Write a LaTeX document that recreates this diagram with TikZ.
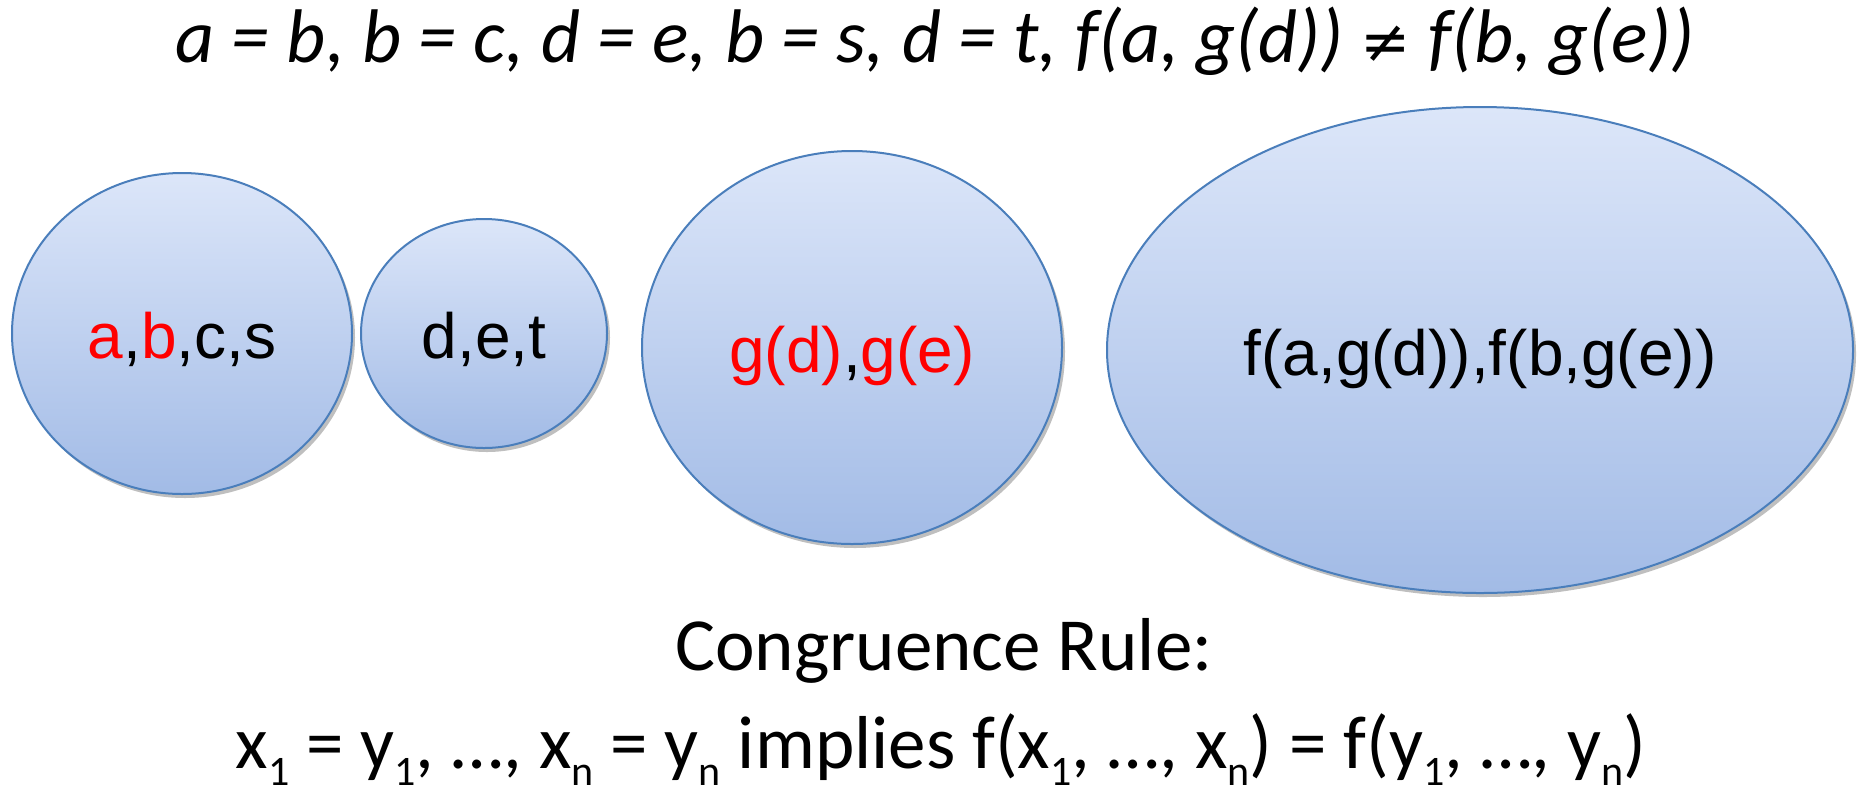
\documentclass[tikz,border=0pt]{standalone}
\usepackage{fontspec}
\setmainfont{Carlito}
\newfontfamily\arialfont{Liberation Sans}
\newfontfamily\symbolfont{DejaVu Sans}
\usetikzlibrary{positioning}
\usetikzlibrary{shapes.geometric}
\usetikzlibrary{shadows}
\definecolor{ectop}{HTML}{DCE6F9}
\definecolor{ecbottom}{HTML}{A2BBE6}
\definecolor{ecline}{HTML}{4A7EBB}
\definecolor{ecred}{HTML}{FF0000}
\newcommand \marked [1] {\textcolor{ecred}{#1}}
\newcommand \lowidx [1] {\raisebox{-8.5pt}{\fontsize{21}{21}\selectfont #1}}
\tikzset{
	eqclass/.style={
		ellipse,
		draw=ecline,
		line width=1pt,
		top color=ectop,
		bottom color=ecbottom,
		drop shadow={shadow xshift=1.5pt, shadow yshift=-2pt, opacity=0.25, fill=black},
		inner sep=0pt,
		text height=25pt,
		text depth=0pt,
		font=\arialfont\fontsize{32}{32}\selectfont
	},
	eqtitle/.style={
		anchor=base,
		inner sep=0pt,
		font=\itshape\fontsize{38}{38}\selectfont
	},
	rulebox/.style={
		anchor=base,
		inner sep=0pt,
		font=\fontsize{37.5}{37.5}\selectfont
	}
}
\begin{document}
\begin{tikzpicture} [x=0.5pt, y=-0.5pt]
	\useasboundingbox (0,0) rectangle (1868,800);
	\node [eqtitle] (eqs) at (935,62) {a = b, b = c, d = e, b = s, d = t, f(a, g(d)) {\symbolfont\fontsize{30}{30}\selectfont ≠} f(b, g(e))};
	\node [eqclass, minimum width=170pt, minimum height=160.5pt] (abcs) at (182,333.5) {\marked{a},\marked{b},c,s};
	\node [eqclass, minimum width=123pt, minimum height=114.5pt] (det) at (484,333.5) {d,e,t};
	\node [eqclass, minimum width=210pt, minimum height=196.5pt] (gdge) at (852,347.5) {\marked{g(d)},\marked{g(e)}};
	\node [eqclass, minimum width=373pt, minimum height=243pt] (fafb) at (1480,350) {f(a,g(d)),f(b,g(e))};
	\node [rulebox] (rulename) at (944,670) {Congruence Rule:};
	\node [rulebox] (ruletext) at (941,768) {x\lowidx{1} = y\lowidx{1}, …, x\lowidx{n} = y\lowidx{n} implies f(x\lowidx{1}, …, x\lowidx{n}) = f(y\lowidx{1}, …, y\lowidx{n})};
\end{tikzpicture}
\end{document}
